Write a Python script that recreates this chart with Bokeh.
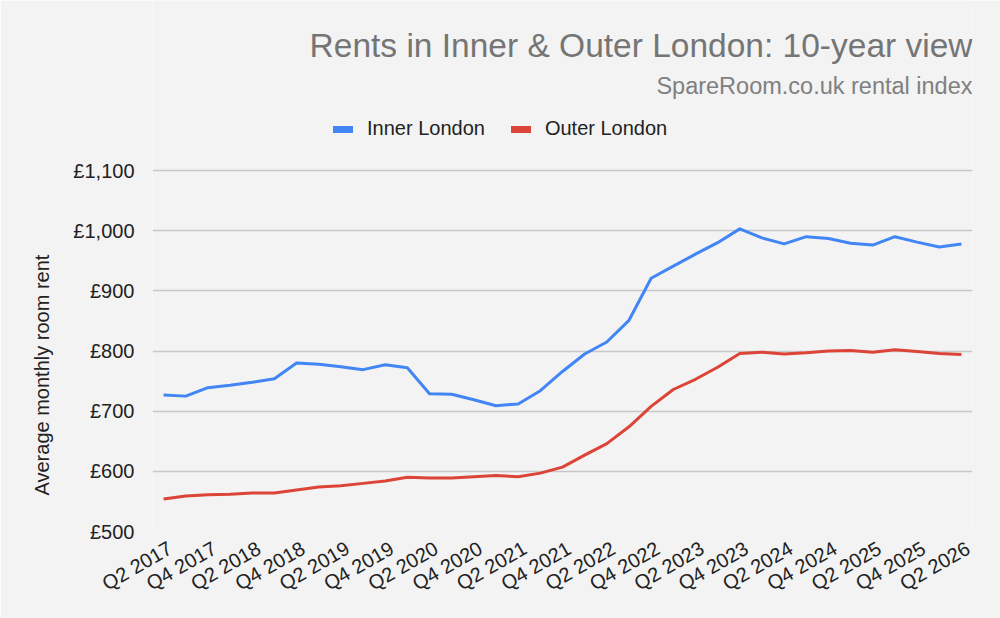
from math import pi, nan
from bokeh.plotting import figure
from bokeh.models import Range1d, Legend, LegendItem, FixedTicker, ColumnDataSource, Label, Title
from bokeh.embed import file_html
from bokeh.resources import INLINE

quarters = [
    "Q2 2017", "Q3 2017", "Q4 2017", "Q1 2018", "Q2 2018", "Q3 2018", "Q4 2018",
    "Q1 2019", "Q2 2019", "Q3 2019", "Q4 2019", "Q1 2020", "Q2 2020", "Q3 2020",
    "Q4 2020", "Q1 2021", "Q2 2021", "Q3 2021", "Q4 2021", "Q1 2022", "Q2 2022",
    "Q3 2022", "Q4 2022", "Q1 2023", "Q2 2023", "Q3 2023", "Q4 2023", "Q1 2024",
    "Q2 2024", "Q3 2024", "Q4 2024", "Q1 2025", "Q2 2025", "Q3 2025", "Q4 2025",
    "Q1 2026", "Q2 2026",
]
inner_london = [
    727, 725, 739, 743, 748, 754, 780, 778, 774, 769, 777, 772, 729, 728, 719,
    709, 712, 734, 766, 795, 815, 851, 921, 941, 961, 980, 1003, 988, 978, 990,
    987, 979, 976, 990, 981, 973, 978,
]
outer_london = [
    554, 559, 561, 562, 564, 564, 569, 574, 576, 580, 584, 590, 589, 589, 591,
    593, 591, 597, 607, 627, 646, 674, 708, 736, 753, 773, 796, 798, 795, 797,
    800, 801, 798, 802, 799, 796, 794,
]
y_ticks = [500, 600, 700, 800, 900, 1000, 1100]
y_tick_labels = ["£500", "£600", "£700", "£800", "£900", "£1,000", "£1,100"]
title_text = "Rents in Inner & Outer London: 10-year view"
subtitle_text = "SpareRoom.co.uk rental index"
y_axis_title = "Average monthly room rent"

FONT = "Liberation Sans"
BG = "#f3f3f3"

# layout geometry (pixels)
FRAME_LEFT_PX, FRAME_RIGHT_PX = 152, 972
FRAME_BOTTOM_PX = 531
GRID_TOP_PX = 170
Y_MIN, Y_MAX = 500, 1100
UNITS_PER_PX = (Y_MAX - Y_MIN) / (FRAME_BOTTOM_PX - GRID_TOP_PX)
X_MIN, X_MAX = -0.5, len(quarters) - 0.5


def y_at(px):
    return Y_MIN + (FRAME_BOTTOM_PX - px) * UNITS_PER_PX


idx = list(range(len(quarters)))
src = ColumnDataSource(dict(x=idx, q=quarters, inner=inner_london, outer=outer_london))

p = figure(width=1000, height=618, output_backend="svg", toolbar_location=None,
           x_range=Range1d(X_MIN, X_MAX),
           y_range=Range1d(Y_MIN, y_at(0)),
           title=None, min_border_left=FRAME_LEFT_PX, min_border_right=1000 - FRAME_RIGHT_PX,
           min_border_top=0, min_border_bottom=618 - FRAME_BOTTOM_PX)
p.background_fill_color = BG
p.border_fill_color = BG
p.outline_line_color = None

r1 = p.line("x", "inner", source=src, line_color="#4285f4", line_width=3, line_join="round")
r2 = p.line("x", "outer", source=src, line_color="#db4437", line_width=3, line_join="round")

# legend swatches (thicker lines, nothing drawn in the plot)
empty = ColumnDataSource(dict(x=[nan], y=[nan]))
g1 = p.line("x", "y", source=empty, line_color="#4285f4", line_width=7, line_cap="round")
g2 = p.line("x", "y", source=empty, line_color="#db4437", line_width=7, line_cap="round")

# x axis (labels nudged right of each point, as in the original)
LABEL_SHIFT = 0.3
shown = idx[::2]
p.xaxis.ticker = FixedTicker(ticks=[i + LABEL_SHIFT for i in shown])
p.xaxis.major_label_overrides = {i + LABEL_SHIFT: quarters[i] for i in shown}
p.xaxis.major_label_orientation = pi / 6
p.xaxis.major_label_text_font = FONT
p.xaxis.major_label_text_font_size = "20px"
p.xaxis.major_label_text_color = "#222222"
p.xaxis.axis_line_color = None
p.xaxis.major_tick_line_color = None
p.xaxis.minor_tick_line_color = None
p.xaxis.major_label_standoff = 9
p.xgrid.grid_line_color = None

# y axis
p.yaxis.ticker = FixedTicker(ticks=y_ticks)
p.yaxis.major_label_overrides = dict(zip(y_ticks, y_tick_labels))
p.yaxis.major_label_text_font = FONT
p.yaxis.major_label_text_font_size = "20px"
p.yaxis.major_label_text_color = "#222222"
p.yaxis.axis_line_color = None
p.yaxis.major_tick_line_color = None
p.yaxis.minor_tick_line_color = None
p.yaxis.major_label_standoff = 12
p.ygrid.grid_line_color = "#c8c8c8"
p.ygrid.grid_line_width = 1.5

# y axis title: starts a little above the frame bottom (as in the original)
p.add_layout(Title(text=y_axis_title, align="left", offset=36,
                   text_font=FONT, text_font_size="20px", text_font_style="normal",
                   text_color="#222222", standoff=35), "left")

legend = Legend(items=[LegendItem(label="Inner London", renderers=[g1]),
                       LegendItem(label="Outer London", renderers=[g2])],
                orientation="horizontal", location=(181, FRAME_BOTTOM_PX - 140),
                label_text_font=FONT, label_text_font_size="20px",
                label_text_color="#222222", glyph_width=20, glyph_height=20,
                spacing=26, padding=0, margin=0, label_standoff=14,
                background_fill_alpha=0, border_line_color=None)
p.add_layout(legend)

p.add_layout(Label(x=X_MAX, y=y_at(45), text=title_text, text_align="right",
                   text_baseline="alphabetic", text_font=FONT, text_font_size="33.5px",
                   text_color="#757575"))
p.add_layout(Label(x=X_MAX, y=y_at(85), text=subtitle_text, text_align="right",
                   text_baseline="alphabetic", text_font=FONT, text_font_size="23.5px",
                   text_color="#808080"))

open("out.html", "w").write(file_html(p, INLINE))
